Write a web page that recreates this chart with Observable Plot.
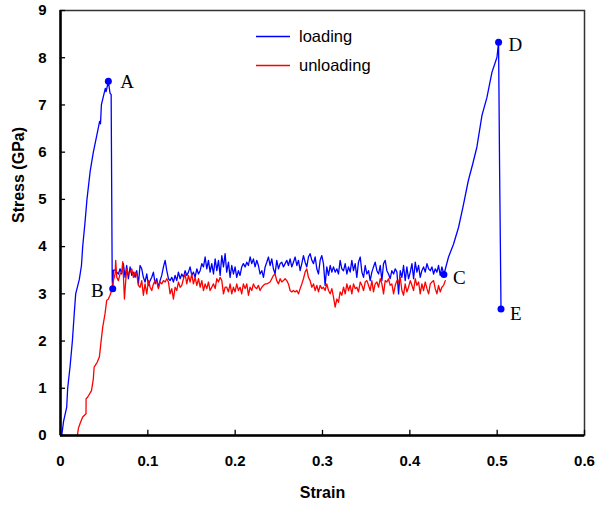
<!DOCTYPE html>
<html>
<head>
<meta charset="utf-8">
<script src="https://cdn.jsdelivr.net/npm/d3@7"></script>
<script src="https://cdn.jsdelivr.net/npm/@observablehq/plot@0.6"></script>
<style>
  html, body { margin: 0; padding: 0; background: white; }
  #chart { position: relative; width: 598px; height: 508px; }
</style>
</head>
<body>
<div id="chart"></div>
<script>
// ---- Data ----
const seriesNames = ["loading", "unloading"];
const seriesColors = ["#0000ff", "#ff0000"];

// loading: elastic rise to A, drop to B
const loadRiseStrain = [0.0014,0.0035,0.0071,0.0082,0.0109,0.0136,0.0158,0.0174,0.0215,0.0240,0.0254,0.0280,0.0303,0.0340,0.0376,0.0415,0.0448,0.0458,0.0468,0.0513,0.0522,0.0548,0.0567,0.0580,0.0592,0.0598,0.0605];
const loadRiseStress = [0,0.3,0.6,1.0,1.45,2.0,2.6,3.0,3.3,3.6,4.0,4.5,5.0,5.6,6.0,6.35,6.65,6.6,7.0,7.35,7.28,7.50,7.25,7.22,3.3,3.11,3.5];

// loading plateau (B to C)
const loadPlatStrain = [
  0.0625,0.0644,0.0663,0.0682,0.0701,0.0720,0.0739,0.0758,0.0777,0.0797,0.0816,0.0835,0.0854,0.0873,0.0892,0.0911,0.0930,0.0949,0.0968,0.0988,0.1007,0.1026,0.1045,0.1064,0.1083,0.1102,0.1121,0.1140,0.1159,0.1179,0.1198,0.1217,0.1236,0.1255,0.1274,0.1293,0.1312,0.1331,0.1350,0.1370,0.1389,0.1408,0.1427,0.1446,0.1465,0.1484,0.1503,0.1522,0.1541,0.1561,0.1580,0.1599,0.1618,0.1637,0.1656,0.1675,0.1694,0.1713,0.1732,0.1752,0.1771,0.1790,0.1809,0.1828,0.1847,0.1866,0.1885,
  0.1903,0.1923,0.1942,0.1961,0.1980,0.1999,0.2018,0.2037,0.2056,0.2075,0.2094,0.2114,0.2133,0.2152,0.2171,0.2190,0.2209,0.2228,0.2247,0.2266,0.2285,0.2305,0.2324,0.2343,0.2362,0.2381,0.2400,0.2419,0.2438,0.2457,0.2476,0.2496,0.2515,0.2534,0.2553,0.2572,0.2591,0.2610,0.2629,0.2648,0.2667,0.2687,0.2706,0.2725,0.2744,0.2763,0.2782,0.2801,0.2820,0.2839,0.2858,0.2878,0.2897,0.2916,0.2935,0.2954,0.2973,0.2992,0.3011,0.3030,0.3049,0.3069,0.3088,0.3107,0.3126,
  0.3145,0.3164,0.3183,0.3202,0.3221,0.3241,0.3260,0.3279,0.3298,0.3317,0.3336,0.3355,0.3374,0.3393,0.3412,0.3432,0.3451,0.3470,0.3489,0.3508,0.3527,0.3546,0.3565,0.3584,0.3603,0.3623,0.3642,0.3661,0.3680,0.3699,0.3718,0.3737,0.3756,0.3775,0.3794,0.3814,0.3833,0.3852,0.3871,0.3890,0.3909,0.3928,0.3947,0.3966,0.3985,0.4005,0.4024,0.4043,0.4062,0.4081,0.4100,0.4119,0.4138,0.4157,0.4176,0.4196,0.4215,0.4234,0.4253,0.4272,0.4291,0.4310,0.4329,0.4348,0.4367
];
const loadPlatStress = [
  3.50,3.46,3.42,3.53,3.42,3.64,3.35,3.60,3.32,3.57,3.39,3.46,3.35,3.49,3.21,3.60,3.53,3.35,3.25,3.42,3.18,3.28,3.35,3.46,3.21,3.32,3.14,3.28,3.39,3.57,3.71,3.49,3.32,3.28,3.35,3.25,3.39,3.28,3.46,3.32,3.42,3.35,3.49,3.39,3.46,3.57,3.39,3.46,3.35,3.53,3.42,3.49,3.64,3.57,3.78,3.53,3.71,3.46,3.64,3.42,3.74,3.49,3.71,3.39,3.81,3.57,3.85,
  3.46,3.67,3.35,3.60,3.42,3.57,3.35,3.49,3.39,3.57,3.64,3.57,3.67,3.60,3.78,3.64,3.74,3.57,3.71,3.60,3.42,3.49,3.35,3.57,3.67,3.78,3.60,3.74,3.53,3.42,3.71,3.53,3.64,3.67,3.57,3.64,3.71,3.60,3.74,3.57,3.67,3.78,3.60,3.71,3.49,3.64,3.81,3.67,3.57,3.78,3.85,3.71,3.64,3.78,3.53,3.42,3.71,3.81,3.64,3.18,3.57,3.39,3.60,3.46,3.57,
  3.46,3.53,3.42,3.71,3.53,3.49,3.64,3.42,3.57,3.46,3.71,3.49,3.64,3.35,3.67,3.78,3.46,3.35,3.60,3.42,3.49,3.28,3.46,3.57,3.67,3.49,3.42,3.60,3.28,3.64,3.71,3.49,3.42,3.32,3.49,3.42,3.53,3.46,3.00,3.49,3.35,3.60,3.28,3.57,3.32,3.46,3.64,3.32,3.67,3.46,3.60,3.35,3.49,3.57,3.46,3.64,3.53,3.49,3.57,3.42,3.53,3.46,3.60,3.39,3.57
];

// loading: C to D, drop to E
const loadHardStrain = [0.4390,0.4443,0.4500,0.4558,0.4610,0.4670,0.4720,0.4768,0.4826,0.4883,0.4940,0.4998,0.5016,0.5028,0.5044];
const loadHardStress = [3.41,3.78,4.05,4.41,4.85,5.40,5.75,6.11,6.78,7.16,7.69,8.01,8.33,5.6,2.68];

// unloading
const unloadRiseStrain = [0.0193,0.0205,0.0223,0.0254,0.0292,0.0293,0.0310,0.0355,0.0376,0.0385,0.0420,0.0445,0.0465,0.0483,0.0510,0.0529,0.0548,0.0567,0.0586,0.0606,0.0625,0.0632,0.0644,0.0663,0.0682,0.0701,0.0713,0.0732,0.0747];
const unloadRiseStress = [0,0.15,0.25,0.39,0.46,0.78,0.81,0.95,1.2,1.45,1.55,1.66,2.0,2.29,2.58,2.86,2.89,2.97,3.07,3.28,3.42,3.71,3.35,3.28,3.42,3.46,3.68,2.89,3.28];

const unloadPlatStrain = [
  0.0758,0.0777,0.0797,0.0816,0.0835,0.0854,0.0873,0.0892,0.0911,0.0930,0.0949,0.0968,0.0988,0.1007,0.1026,0.1045,0.1064,0.1083,0.1102,0.1121,0.1140,0.1159,0.1179,0.1198,0.1217,0.1236,0.1255,0.1274,0.1293,0.1312,0.1331,0.1350,0.1370,0.1389,0.1408,0.1427,0.1446,0.1465,0.1484,0.1503,0.1522,0.1541,0.1561,0.1580,0.1599,0.1618,0.1637,0.1656,0.1675,0.1694,0.1713,0.1732,0.1752,0.1771,0.1790,0.1809,0.1828,0.1847,0.1866,0.1885,
  0.1903,0.1923,0.1942,0.1961,0.1980,0.1999,0.2018,0.2037,0.2056,0.2075,0.2094,0.2114,0.2133,0.2152,0.2171,0.2190,0.2209,0.2228,0.2247,0.2266,0.2285,0.2305,0.2324,0.2343,0.2362,0.2381,0.2400,0.2419,0.2438,0.2457,0.2476,0.2496,0.2515,0.2534,0.2553,0.2572,0.2591,0.2610,0.2629,0.2648,0.2667,0.2687,0.2706,0.2725,0.2744,0.2763,0.2782,0.2801,0.2820,0.2839,0.2858,0.2878,0.2897,0.2916,0.2935,0.2954,0.2973,0.2992,0.3011,0.3030,0.3049,0.3069,0.3088,0.3107,0.3126,
  0.3145,0.3164,0.3183,0.3202,0.3221,0.3241,0.3260,0.3279,0.3298,0.3317,0.3336,0.3355,0.3374,0.3393,0.3412,0.3432,0.3451,0.3470,0.3489,0.3508,0.3527,0.3546,0.3565,0.3584,0.3603,0.3623,0.3642,0.3661,0.3680,0.3699,0.3718,0.3737,0.3756,0.3775,0.3794,0.3814,0.3833,0.3852,0.3871,0.3890,0.3909,0.3928,0.3947,0.3966,0.3985,0.4005,0.4024,0.4043,0.4062,0.4081,0.4100,0.4119,0.4138,0.4157,0.4176,0.4196,0.4215,0.4234,0.4253,0.4272,0.4291,0.4310,0.4329,0.4348,0.4367,0.4387,0.4406
];
const unloadPlatStress = [
  3.53,3.42,3.46,3.53,3.35,3.46,3.42,3.18,3.14,3.28,2.97,3.21,3.00,3.28,3.14,3.07,3.21,3.28,3.25,3.11,3.25,3.21,3.28,3.25,3.32,3.25,3.00,3.11,2.89,3.14,3.07,3.25,3.14,3.18,3.32,3.42,3.21,3.39,3.25,3.42,3.21,3.35,3.18,3.32,3.14,3.28,3.07,3.21,3.11,3.25,3.07,3.14,3.21,3.11,3.32,3.25,3.35,3.28,3.00,3.14,
  3.14,3.04,3.21,3.00,3.14,3.04,3.21,3.07,3.14,3.00,3.21,3.11,3.21,2.97,3.14,3.07,3.21,3.14,3.11,3.18,3.07,3.14,3.18,3.21,3.21,3.23,3.25,3.32,3.39,3.42,3.28,3.21,3.32,3.25,3.28,3.32,3.28,3.21,3.07,3.04,3.07,3.04,3.07,3.00,3.11,3.21,3.32,3.46,3.53,3.35,3.28,3.14,3.21,3.07,3.18,3.04,3.18,3.11,3.14,3.07,3.21,3.07,3.00,3.11,2.93,
  2.72,2.89,2.82,3.04,2.97,3.14,3.00,3.21,3.07,3.18,3.00,3.21,3.11,3.14,3.04,3.25,3.18,3.07,3.25,3.28,3.18,3.07,3.28,3.04,3.21,3.25,3.14,3.32,3.21,3.00,3.28,3.25,3.32,3.18,3.21,3.00,3.18,3.28,3.25,3.35,3.07,2.97,3.21,3.04,3.14,3.28,3.18,3.07,3.32,3.18,3.25,3.00,3.21,3.07,3.25,3.11,3.00,3.21,3.25,3.28,3.11,3.00,3.18,3.04,3.14,3.18,3.28
];

const pointLabels = ["A", "B", "C", "D", "E"];
const pointStrain = [0.0548, 0.0598, 0.4390, 0.5016, 0.5044];
const pointStress = [7.50, 3.11, 3.41, 8.33, 2.68];

const xTicks = [0, 0.1, 0.2, 0.3, 0.4, 0.5, 0.6];
const yTicks = [0, 1, 2, 3, 4, 5, 6, 7, 8, 9];
const xTitle = "Strain";
const yTitle = "Stress (GPa)";

// ---- Build tables ----
const zip = (xs, ys) => xs.map((x, i) => ({x, y: ys[i]}));
const loading = [
  ...zip(loadRiseStrain, loadRiseStress),
  ...zip(loadPlatStrain, loadPlatStress),
  ...zip(loadHardStrain, loadHardStress)
];
const unloading = [
  ...zip(unloadRiseStrain, unloadRiseStress),
  ...zip(unloadPlatStrain, unloadPlatStress)
];
const points = pointLabels.map((label, i) => ({label, x: pointStrain[i], y: pointStress[i]}));
const labelStyle = {
  A: {dx: 12, dy: 1, anchor: "start"},
  B: {dx: -9, dy: 2, anchor: "end"},
  C: {dx: 9, dy: 3, anchor: "start"},
  D: {dx: 10, dy: 3, anchor: "start"},
  E: {dx: 9, dy: 5, anchor: "start"}
};

const sans = "'Liberation Sans', Arial, Helvetica, sans-serif";
const serif = "'Liberation Serif', 'Times New Roman', serif";

const labelMarks = points.map(p => Plot.text([p], {
  x: "x", y: "y", text: "label",
  dx: labelStyle[p.label].dx, dy: labelStyle[p.label].dy,
  textAnchor: labelStyle[p.label].anchor,
  fontFamily: serif, fontSize: 19, fill: "black"
}));

const chart = Plot.plot({
  width: 598,
  height: 508,
  marginLeft: 60,
  marginRight: 14,
  marginTop: 10,
  marginBottom: 73,
  x: {domain: [0, 0.6]},
  y: {domain: [0, 9]},
  style: {fontFamily: sans, background: "white", color: "black"},
  marks: [
    Plot.frame({stroke: "#333", strokeWidth: 1.5}),
    Plot.axisY(yTicks, {tickSize: 0, tickPadding: 14, fontSize: 15, fontWeight: "bold", label: null}),
    Plot.axisX(xTicks, {tickSize: 0, tickPadding: 20, fontSize: 15, fontWeight: "bold", label: null,
      tickFormat: d => d === 0 ? "0" : d.toFixed(1)}),
    Plot.ruleY(yTicks, {y: d => d, x1: 0, x2: 0.0058, stroke: "black", strokeWidth: 1.3}),
    Plot.ruleX(xTicks, {x: d => d, y1: 0, y2: 0.11, stroke: "black", strokeWidth: 1.3}),
    Plot.line(loading, {x: "x", y: "y", stroke: seriesColors[0], strokeWidth: 1.3}),
    Plot.line(unloading, {x: "x", y: "y", stroke: seriesColors[1], strokeWidth: 1.3}),
    Plot.ruleX([0], {stroke: "black", strokeWidth: 2.5}),
    Plot.ruleY([0], {stroke: "black", strokeWidth: 2.5}),
    Plot.dot(points, {x: "x", y: "y", r: 3.5, fill: seriesColors[0]}),
    ...labelMarks,
    Plot.text([xTitle], {frameAnchor: "bottom", dy: 62, fontSize: 16, fontWeight: "bold", fill: "black"}),
    Plot.text([yTitle], {frameAnchor: "left", dx: -42, rotate: -90, fontSize: 16, fontWeight: "bold", fill: "black"})
  ]
});

document.getElementById("chart").appendChild(chart);

// ---- Legend inside plot (top centre) ----
const svg = d3.select(chart);
const lg = svg.append("g").attr("font-family", sans).attr("font-size", 16.5).attr("text-anchor", "start");
seriesNames.forEach((name, i) => {
  const yy = 36.5 + i * 29;
  lg.append("line").attr("x1", 256).attr("x2", 290).attr("y1", yy).attr("y2", yy)
    .attr("stroke", seriesColors[i]).attr("stroke-width", 1.3);
  lg.append("text").attr("x", 299).attr("y", yy).attr("dy", "0.35em")
    .attr("text-anchor", "start").attr("fill", "black").text(name);
});
</script>
</body>
</html>
